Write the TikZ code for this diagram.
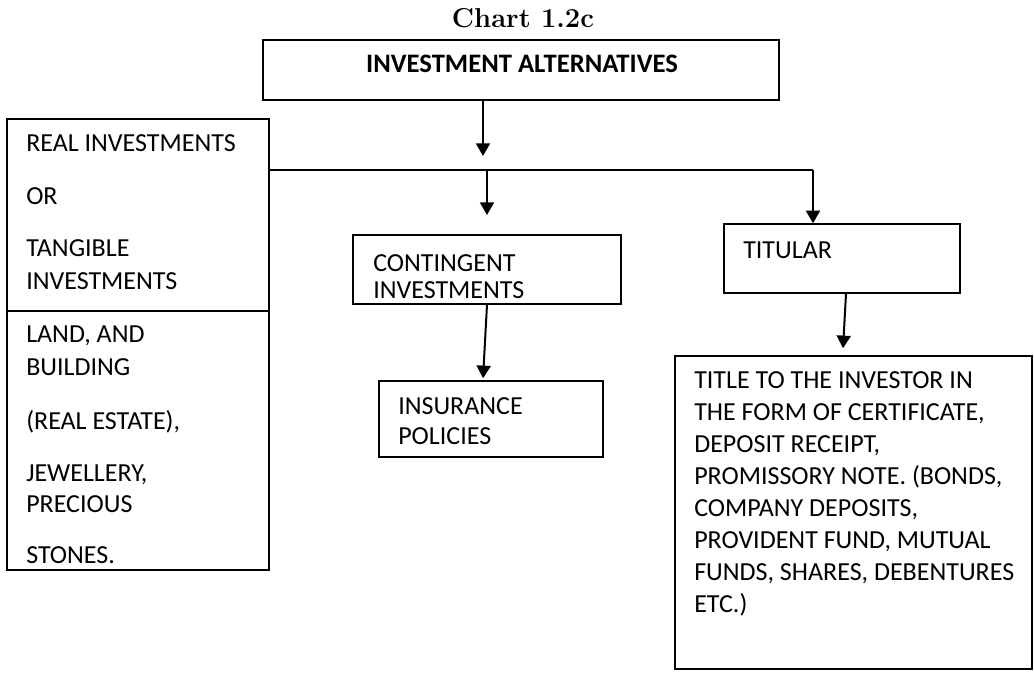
\documentclass[tikz,border=0pt]{standalone}
\usepackage{fontspec}
\newfontfamily\calibri{Carlito}
\usetikzlibrary{arrows.meta,fit,calc}
\begin{document}
\begin{tikzpicture}[x=0.75pt,y=-0.75pt,
  box/.style={draw, line width=1.1pt, inner sep=0pt},
  arr/.style={-{Triangle[length=9.5pt,width=10.5pt]}, line width=1.5pt},
  txt/.style={font=\calibri\fontsize{19.5}{24.75}\selectfont, align=left, inner sep=0pt, anchor=north west},
]
\useasboundingbox (0,0) rectangle (1034,675);

% heading
\node[font=\bfseries\fontsize{20.5}{24}\selectfont, anchor=base] (chart) at (523,27) {Chart 1.2c};

% root box
\node[box, fit={(263,40) (779,100)}] (root) {};
\node[font=\calibri\bfseries\fontsize{20}{24}\selectfont, inner sep=0pt] (rootlabel) at (522,64) {INVESTMENT ALTERNATIVES};

% real investments, split in two parts
\node[box, fit={(7,119) (269,311)}] (realtop) {};
\node[box, fit={(7,311) (269,570)}] (realbottom) {};
\node[txt] (realtoplabel) at (26,134.3)
  {REAL INVESTMENTS\\[15pt] OR\\[14.25pt] TANGIBLE\\ INVESTMENTS};
\node[txt] (realbottomlabel) at (26,325.3)
  {LAND, AND\\ BUILDING\\[15.75pt] (REAL ESTATE),\\[14.25pt] JEWELLERY,\\[-1.5pt] PRECIOUS\\[13.5pt] STONES.};

% contingent investments
\node[box, fit={(353,235) (621,304)}] (contingent) {};
\node[txt, font=\calibri\fontsize{19.5}{20.25}\selectfont] (contingentlabel) at (373,254.3)
  {CONTINGENT\\ INVESTMENTS};
\node[box, fit={(379,381) (603,457)}] (insurance) {};
\node[txt, font=\calibri\fontsize{19.5}{22.5}\selectfont] (insurancelabel) at (398,397.3)
  {INSURANCE\\ POLICIES};

% titular investments
\node[box, fit={(724,224) (960,293)}] (titular) {};
\node[txt] (titularlabel) at (743,241.3) {TITULAR};
\node[box, fit={(675,356) (1032,669)}] (titledoc) {};
\node[txt, font=\calibri\fontsize{19.5}{24}\selectfont] (titledoclabel) at (694,371.3)
  {TITLE TO THE INVESTOR IN\\
   THE FORM OF CERTIFICATE,\\
   DEPOSIT RECEIPT,\\
   PROMISSORY NOTE. (BONDS,\\
   COMPANY DEPOSITS,\\
   PROVIDENT FUND, MUTUAL\\
   FUNDS, SHARES, DEBENTURES\\
   ETC.)};

% connectors
\coordinate (rootend) at (483,156);
\coordinate (busC) at (487,170);
\coordinate (busR) at (813,170);
\coordinate (contend) at (487,215);
\draw[arr] (root.south -| rootend) -- (rootend);
\draw[line width=1.1pt] (realtop.east |- busR) -- (busR);
\draw[arr] (busC) -- (contend);
\draw[arr] (busR) -- (titular.north -| busR);
\draw[arr] (contingent.south) -- ($(insurance.north)+(-8,-2)$);
\draw[arr] ($(titular.south)+(4,0)$) -- ($(titledoc.north)+(-10.5,-7)$);
\end{tikzpicture}
\end{document}
